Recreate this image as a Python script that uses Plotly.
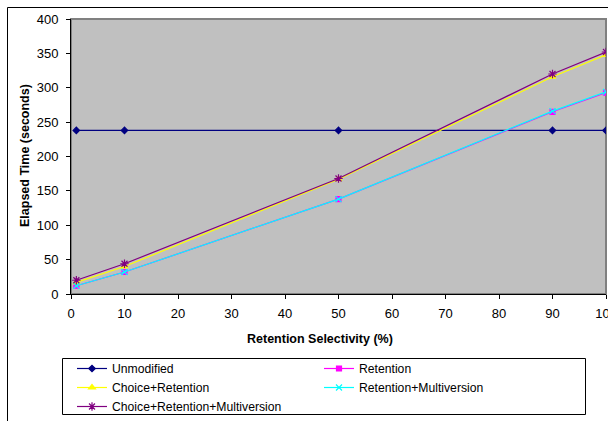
import plotly.graph_objects as go

x_vals = [1, 10, 50, 90, 100]
unmodified = [238, 238, 238, 238, 238]
retention = [12, 32, 138, 265, 293]
choice_retention = [17, 40, 167, 316, 348]
retention_multiversion = [12, 32, 138, 266, 294]
choice_retention_multiversion = [20, 44, 168, 320, 352]

series = [
    ("Unmodified", unmodified, "#000080", "diamond", 5),
    ("Retention", retention, "#FF00FF", "square", 5),
    ("Choice+Retention", choice_retention, "#FFFF00", "triangle-up", 6),
    ("Retention+Multiversion", retention_multiversion, "#00FFFF", "x-thin-open", 6),
    ("Choice+Retention+Multiversion", choice_retention_multiversion, "#800080", "asterisk-open", 7),
]

W, H = 608, 421
L, R, T, B = 71, 2, 19, 127
pw = W - L - R
ph = H - T - B

def px_x(p):
    return (p - L) / pw

def px_y(p):
    return (H - B - p) / ph

fig = go.Figure()
for name, ys, col, sym, sz in series:
    fig.add_trace(go.Scatter(
        x=x_vals, y=ys, name=name, mode="lines+markers",
        line=dict(color=col, width=1.2),
        marker=dict(symbol=sym, size=sz, color=col, line=dict(color=col, width=1.2)),
    ))

font = "Liberation Sans, Arial, sans-serif"
fig.update_layout(
    width=W, height=H,
    margin=dict(l=L, r=R, t=T, b=B, autoexpand=False),
    paper_bgcolor="white",
    plot_bgcolor="#C0C0C0",
    font=dict(family=font, size=12.5, color="black"),
    showlegend=True,
    legend=dict(
        orientation="h",
        xref="container", yref="container",
        x=72 / W, y=1 - 354 / H, xanchor="left", yanchor="top",
        borderwidth=0,
        bgcolor="rgba(0,0,0,0)",
        entrywidth=202, entrywidthmode="pixels",
        font=dict(family=font, size=12.2, color="black"),
        traceorder="normal",
        tracegroupgap=0,
        itemwidth=30,
    ),
    xaxis=dict(
        range=[0, 100], tickmode="array", tickvals=list(range(0, 101, 10)),
        showgrid=False, zeroline=False,
        showline=True, linecolor="black", linewidth=1,
        ticks="outside", ticklen=4, tickcolor="black",
        ticklabeloverflow="allow", ticklabelstandoff=3,
        tickfont=dict(family=font, size=13, color="black"),
    ),
    yaxis=dict(
        range=[0, 400], tickmode="array", tickvals=list(range(0, 401, 50)),
        showgrid=False, zeroline=False,
        showline=True, linecolor="black", linewidth=1,
        ticks="outside", ticklen=4, tickcolor="black",
        ticklabelstandoff=5,
        tickfont=dict(family=font, size=13, color="black"),
    ),
    shapes=[
        dict(type="rect", xref="paper", yref="paper", x0=0, x1=1, y0=0, y1=1,
             line=dict(color="#808080", width=2), layer="below"),
        dict(type="rect", xref="paper", yref="paper",
             x0=px_x(7.5), x1=px_x(700), y0=px_y(700), y1=px_y(7.5),
             line=dict(color="black", width=1), fillcolor="rgba(0,0,0,0)"),
        dict(type="rect", xref="paper", yref="paper",
             x0=px_x(62.5), x1=px_x(585.5), y0=px_y(414.5), y1=px_y(358.5),
             line=dict(color="black", width=1), fillcolor="rgba(0,0,0,0)"),
    ],
    annotations=[
        dict(text="<b>Retention Selectivity (%)</b>", xref="paper", yref="paper",
             x=px_x(320), y=px_y(339), xanchor="center", yanchor="middle",
             showarrow=False, font=dict(family=font, size=12.5, color="black")),
        dict(text="<b>Elapsed Time (seconds)</b>", xref="paper", yref="paper",
             x=px_x(25), y=px_y(156), xanchor="center", yanchor="middle",
             textangle=-90, showarrow=False, font=dict(family=font, size=12.5, color="black")),
    ],
)

fig.write_html("out.html")
